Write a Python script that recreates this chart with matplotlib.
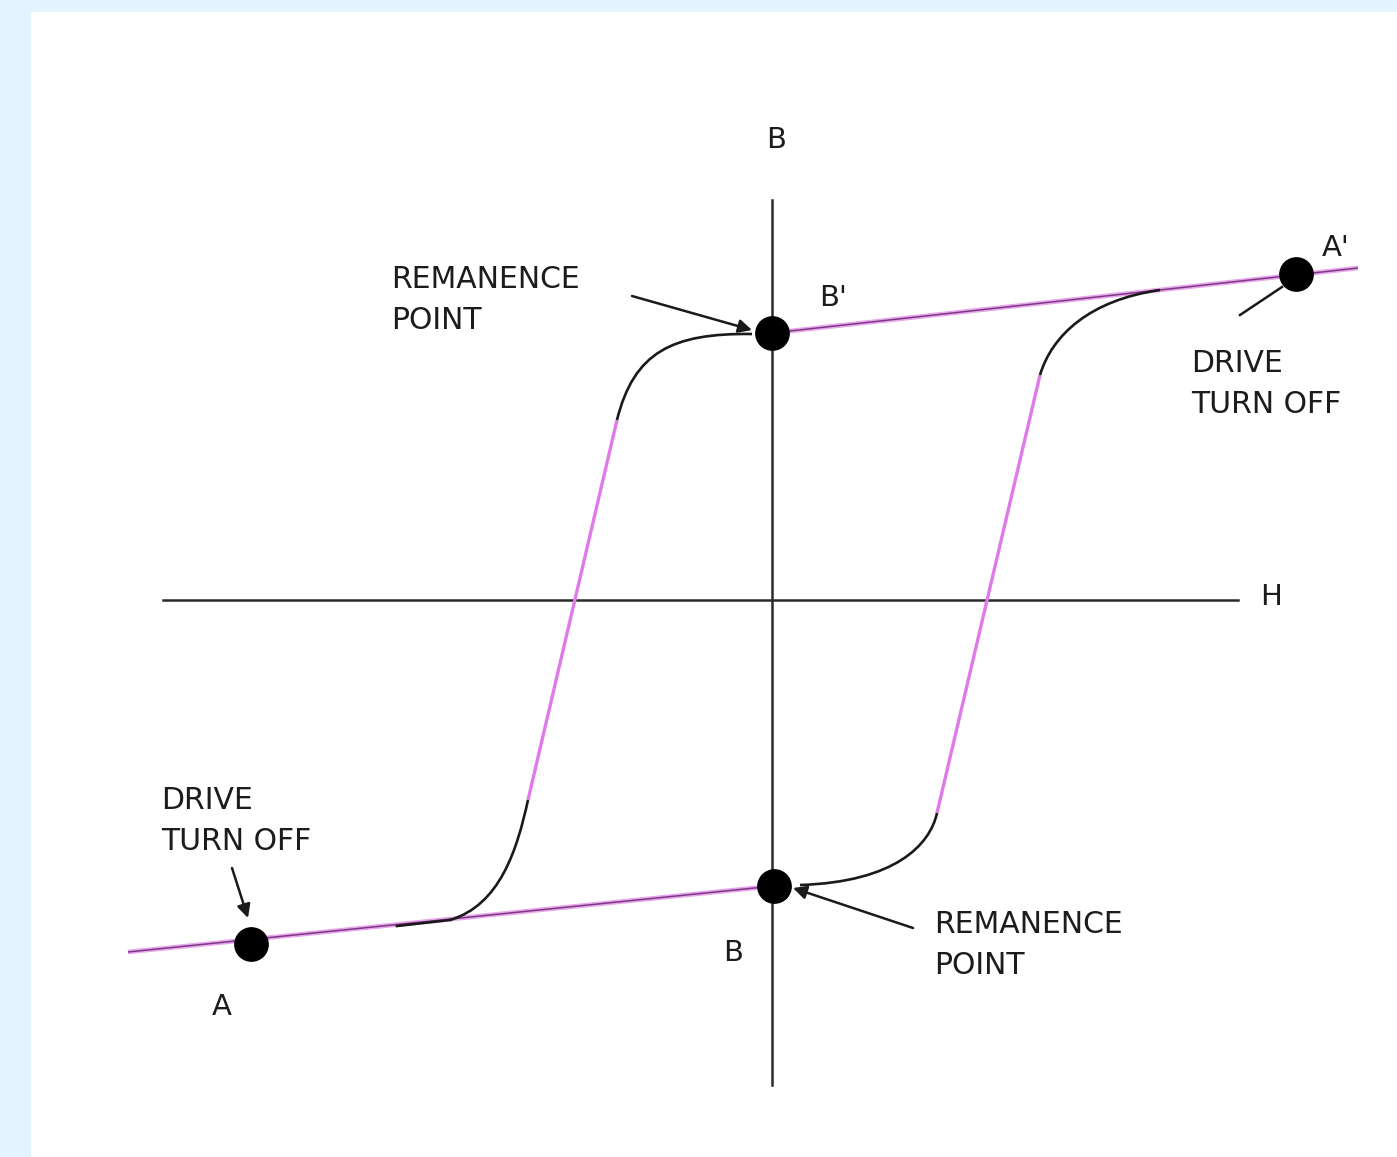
import matplotlib
matplotlib.use("Agg")
import matplotlib.pyplot as plt
from matplotlib.path import Path
from matplotlib.patches import PathPatch

# ---- data (H, B) coordinates ----
point_names = ["A", "B", "B'", "A'"]
point_H = [-5.21, 0.02, 0.00, 5.24]
point_B = [-3.44, -2.86, 2.67, 3.26]

lower_line_H = [-6.44, 0.02]
lower_line_B = [-3.52, -2.86]
upper_line_H = [0.00, 5.86]
upper_line_B = [2.67, 3.32]

left_branch_H = [-1.55, -2.44]
left_branch_B = [1.80, -2.00]
right_branch_H = [1.65, 2.68]
right_branch_B = [-2.13, 2.25]

# knee curves (cubic Bezier control points)
knee_upper_left_H = [-1.55, -1.38, -1.00, -0.20]
knee_upper_left_B = [1.80, 2.48, 2.67, 2.66]
knee_lower_left_H = [-2.44, -2.55, -2.72, -3.22]
knee_lower_left_B = [-2.00, -2.50, -3.05, -3.20]
knee_lower_right_H = [1.65, 1.58, 1.23, 0.28]
knee_lower_right_B = [-2.13, -2.45, -2.82, -2.85]
knee_upper_right_H = [2.68, 2.80, 3.18, 3.88]
knee_upper_right_B = [2.25, 2.65, 3.00, 3.10]
tail_lower_H = [-3.22, -3.75]
tail_lower_B = [-3.20, -3.26]

h_axis_H = [-6.09, 4.66]
h_axis_B = [0.0, 0.0]
b_axis_H = [0.0, 0.0]
b_axis_B = [4.00, -4.85]

labels = ["B", "H", "B'", "A'", "B", "A"]
labels_H = [0.04, 4.99, 0.61, 5.64, -0.39, -5.50]
labels_B = [4.60, 0.03, 3.02, 3.52, -3.53, -4.07]

notes = ["REMANENCE\nPOINT", "REMANENCE\nPOINT", "DRIVE\nTURN OFF", "DRIVE\nTURN OFF"]
notes_H = [-3.81, 1.62, 4.19, -6.11]
notes_B = [3.00, -3.45, 2.16, -2.21]

arrow_from_H = [-1.40, 1.41, -5.40]
arrow_from_B = [3.04, -3.28, -2.68]
arrow_to_H = [-0.20, 0.21, -5.24]
arrow_to_B = [2.70, -2.88, -3.18]
plain_line_H = [4.68, 5.10]
plain_line_B = [2.85, 3.13]

# ---- figure ----
W, Hpx = 1397, 1157
fig = plt.figure(figsize=(W / 100, Hpx / 100), dpi=100, facecolor="#e4f4fe")
left_px, top_px = 31, 12
ax = fig.add_axes([left_px / W, 0, (W - left_px) / W, (Hpx - top_px) / Hpx])
ax.set_facecolor("white")
ax.set_xlim((left_px - 772) / 100, (W - 772) / 100)
ax.set_ylim((600 - Hpx) / 100, (600 - top_px) / 100)
for s in ax.spines.values():
    s.set_visible(False)
ax.set_xticks([])
ax.set_yticks([])

axis_col = "#2a2a2a"
ax.plot(h_axis_H, h_axis_B, color=axis_col, lw=1.8, zorder=2)
ax.plot(b_axis_H, b_axis_B, color=axis_col, lw=1.8, zorder=2)

pink = "#e07ae8"
for xs, ys in [(lower_line_H, lower_line_B), (upper_line_H, upper_line_B)]:
    ax.plot(xs, ys, color="#eaa6ee", lw=3.4, solid_capstyle="butt", zorder=3)
    ax.plot(xs, ys, color="#7a3a82", lw=1.1, solid_capstyle="butt", zorder=3)
for xs, ys in [(left_branch_H, left_branch_B), (right_branch_H, right_branch_B)]:
    ax.plot(xs, ys, color=pink, lw=2.4, solid_capstyle="butt", zorder=3)

codes = [Path.MOVETO, Path.CURVE4, Path.CURVE4, Path.CURVE4]
for xs, ys in [(knee_upper_left_H, knee_upper_left_B),
               (knee_lower_left_H, knee_lower_left_B),
               (knee_lower_right_H, knee_lower_right_B),
               (knee_upper_right_H, knee_upper_right_B)]:
    path = Path(list(zip(xs, ys)), codes)
    ax.add_patch(PathPatch(path, facecolor="none", edgecolor="#1a1a1a", lw=1.9, zorder=4))
ax.plot(tail_lower_H, tail_lower_B, color="#1a1a1a", lw=1.9, zorder=4)

ax.plot(point_H, point_B, "o", color="black", markersize=24, ls="none", zorder=6)

txt_col = "#1c1c1c"
for t, x, y in zip(labels, labels_H, labels_B):
    ax.text(x, y, t, fontsize=21, color=txt_col, ha="center", va="center", zorder=7)
for t, x, y in zip(notes, notes_H, notes_B):
    ax.text(x, y, t, fontsize=21.5, color=txt_col, ha="left", va="center",
            linespacing=1.55, zorder=7)

for x0, y0, x1, y1 in zip(arrow_from_H, arrow_from_B, arrow_to_H, arrow_to_B):
    ax.annotate("", xy=(x1, y1), xytext=(x0, y0),
                arrowprops=dict(arrowstyle="-|>", color="#1a1a1a", lw=1.8,
                                mutation_scale=20, shrinkA=0, shrinkB=0), zorder=5)
ax.plot(plain_line_H, plain_line_B, color="#1a1a1a", lw=1.8, zorder=5)

fig.savefig("out.png", dpi=100, facecolor=fig.get_facecolor())
